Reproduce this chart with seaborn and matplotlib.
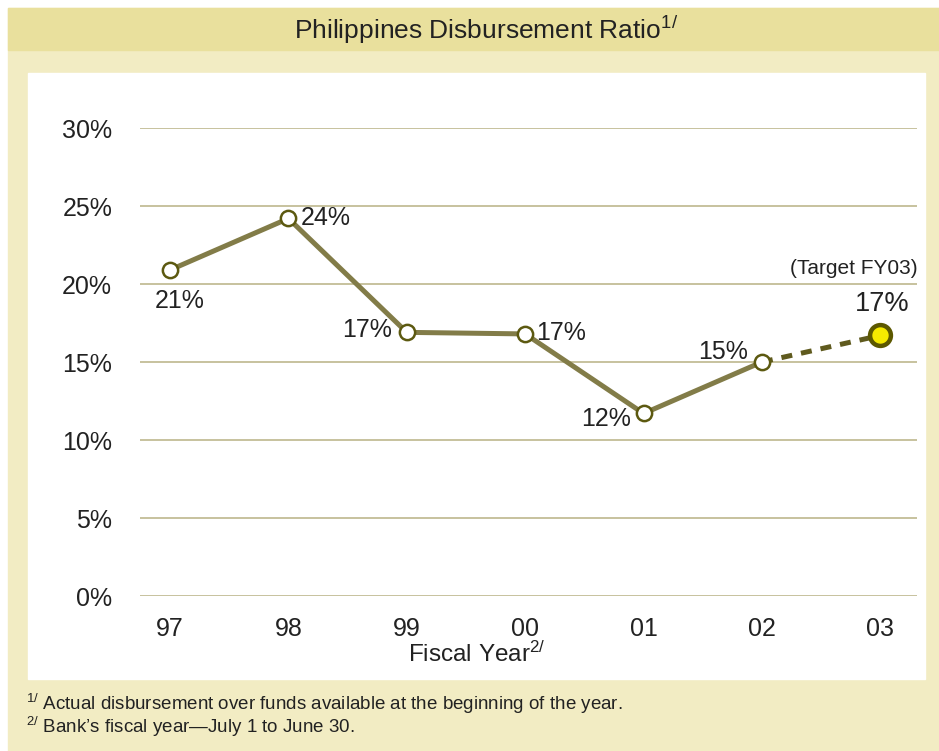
import matplotlib
matplotlib.use("Agg")
import matplotlib.pyplot as plt
import seaborn as sns
import pandas as pd
from matplotlib.patches import Rectangle

# Data
years = ["97", "98", "99", "00", "01", "02"]
ratios = [20.9, 24.2, 16.9, 16.8, 11.7, 15.0]
target_year = "03"
target_ratio = 16.7
labels = ["21%", "24%", "17%", "17%", "12%", "15%"]
target_label = "17%"
yticks = [0, 5, 10, 15, 20, 25, 30]

sns.set_theme(style="white")
plt.rcParams["font.family"] = ["Liberation Sans", "DejaVu Sans"]
plt.rcParams["mathtext.fontset"] = "custom"
plt.rcParams["mathtext.rm"] = "Liberation Sans"
plt.rcParams["mathtext.default"] = "rm"

fig = plt.figure(figsize=(9.39, 7.51), dpi=100)
W, H = 939, 751

def px_rect(x0, y0, x1, y1, color):
    fig.patches.append(Rectangle((x0 / W, 1 - y1 / H), (x1 - x0) / W, (y1 - y0) / H,
                                 transform=fig.transFigure, color=color, zorder=-10))

px_rect(8, 8, 939, 751, "#F2ECC3")
px_rect(8, 8, 939, 50, "#E9E09D")
px_rect(28, 73, 925, 679, "white")

ax = fig.add_axes([140 / W, 1 - 596 / H, (917 - 140) / W, (596 - 128) / H])
ax.patch.set_alpha(0)

all_years = years + [target_year]
xpos = list(range(len(all_years)))
df = pd.DataFrame({"x": xpos[:-1], "ratio": ratios})
df_t = pd.DataFrame({"x": [xpos[-2], xpos[-1]], "ratio": [ratios[-1], target_ratio]})

sns.lineplot(data=df_t, x="x", y="ratio", ax=ax, color="#5F5A1E", lw=3.6,
             linestyle=(0, (2.2, 1.8)), zorder=3)
sns.lineplot(data=df, x="x", y="ratio", ax=ax, color="#827C48", lw=3.6,
             marker="o", markersize=11, markerfacecolor="white",
             markeredgecolor="#5C5910", markeredgewidth=1.8, zorder=4, clip_on=False)
ax.plot([xpos[-1]], [target_ratio], marker="o", markersize=15, markerfacecolor="#F5EA00",
        markeredgecolor="#5C5800", markeredgewidth=3.2, zorder=5, clip_on=False)

ax.set_xlim(-0.254, 6.31)
ax.set_ylim(0, 30)
ax.set_yticks(yticks)
ax.set_yticklabels([f"{v}%" for v in yticks], fontsize=18, color="#222222")
ax.set_xticks(xpos)
ax.set_xticklabels(all_years, fontsize=18, color="#222222")
ax.tick_params(axis="y", pad=20, length=0)
ax.tick_params(axis="x", pad=15, length=0)
for yv in yticks:
    ax.axhline(yv, color="#BDB78E", lw=1.2, zorder=1)
for s in ax.spines.values():
    s.set_visible(False)
ax.set_xlabel("")
ax.set_ylabel("")

# data labels (offsets in points)
offsets = [(7, -22, "center"), (9, 0, "left"), (-11, 2, "right"),
           (8, 1, "left"), (-27, -4, "center"), (-28, 7, "center")]
for x, y, lab, (dx, dy, ha) in zip(xpos, ratios, labels, offsets):
    ax.annotate(lab, (x, y), xytext=(dx, dy), textcoords="offset points",
                ha=ha, va="center", fontsize=18, color="#222222")
ax.annotate(target_label, (xpos[-1], target_ratio), xytext=(1, 23), textcoords="offset points",
            ha="center", va="center", fontsize=19.5, color="#222222")
fig.text(918 / W, 1 - 268 / H, "(Target FY03)", ha="right", va="center", fontsize=15, color="#222222")

fig.text(486 / W, 1 - 30 / H, r"Philippines Disbursement Ratio$^{1/}$", ha="center", va="center",
         fontsize=19, color="#222222")
fig.text(477 / W, 1 - 654 / H, r"Fiscal Year$^{2/}$", ha="center", va="center",
         fontsize=17.5, color="#222222")
fig.text(26 / W, 1 - 704 / H, r"$^{1/}$ Actual disbursement over funds available at the beginning of the year.",
         ha="left", va="center", fontsize=13.5, color="#222222")
fig.text(26 / W, 1 - 727 / H, r"$^{2/}$ Bank’s fiscal year—July 1 to June 30.",
         ha="left", va="center", fontsize=13.5, color="#222222")

fig.savefig("out.png", dpi=100)
